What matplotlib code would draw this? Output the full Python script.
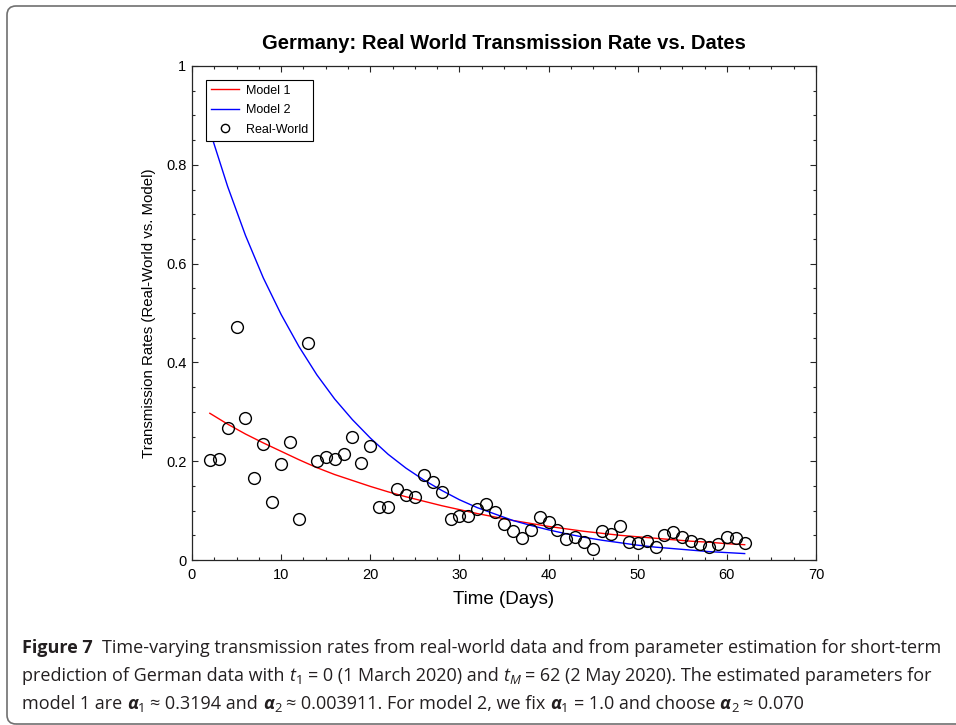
import matplotlib
matplotlib.use("Agg")
import matplotlib.pyplot as plt
from matplotlib.ticker import MultipleLocator, FormatStrFormatter
from matplotlib.transforms import IdentityTransform
from matplotlib.patches import FancyBboxPatch

plt.rcParams['font.family'] = ['Liberation Sans', 'DejaVu Sans']

# Real-world transmission rates (Germany), day 2..62
days = list(range(2, 63))
real_world = [0.203, 0.205, 0.267, 0.471, 0.287, 0.165, 0.234, 0.117, 0.194, 0.239,
              0.082, 0.440, 0.200, 0.209, 0.205, 0.215, 0.250, 0.196, 0.230, 0.107,
              0.107, 0.144, 0.131, 0.127, 0.173, 0.157, 0.138, 0.083, 0.090, 0.089,
              0.104, 0.113, 0.098, 0.072, 0.058, 0.044, 0.061, 0.087, 0.077, 0.061,
              0.042, 0.046, 0.036, 0.022, 0.059, 0.052, 0.069, 0.036, 0.035, 0.038,
              0.026, 0.051, 0.057, 0.047, 0.038, 0.032, 0.026, 0.032, 0.046, 0.044,
              0.035]

# model curves
model_days = [2, 4, 6, 8, 10, 12, 14, 16, 18, 20, 22, 24, 26, 28, 30, 32,
              34, 36, 38, 40, 42, 44, 46, 48, 50, 52, 54, 56, 58, 60, 62]
model1 = [0.297, 0.275, 0.255, 0.237, 0.220, 0.203, 0.187, 0.173, 0.161, 0.149,
          0.138, 0.128, 0.119, 0.110, 0.102, 0.094, 0.087, 0.080, 0.074, 0.068,
          0.063, 0.058, 0.054, 0.050, 0.047, 0.044, 0.041, 0.038, 0.036, 0.033, 0.031]
model2 = [0.869, 0.756, 0.657, 0.571, 0.497, 0.432, 0.375, 0.326, 0.284, 0.247,
          0.214, 0.186, 0.162, 0.141, 0.122, 0.106, 0.093, 0.080, 0.070, 0.061,
          0.053, 0.046, 0.040, 0.035, 0.030, 0.026, 0.023, 0.020, 0.017, 0.015, 0.013]

W, H = 956, 725
fig = plt.figure(figsize=(W / 100, H / 100), dpi=100)
ax = fig.add_axes([192 / W, 1 - 560 / H, 624 / W, 494 / H])

ax.plot(model_days, model1, color='#ff0000', lw=1.0, label='Model 1')
ax.plot(model_days, model2, color='#0000ff', lw=1.0, label='Model 2')
ax.plot(days, real_world, 'o', mfc='none', mec='black', mew=1.0, ms=8.5, label='Real-World')

ax.set_xlim(0, 70)
ax.set_ylim(0, 1)
ax.xaxis.set_major_locator(MultipleLocator(10))
ax.xaxis.set_minor_locator(MultipleLocator(2.5))
ax.yaxis.set_major_locator(MultipleLocator(0.2))
ax.yaxis.set_minor_locator(MultipleLocator(0.05))
ax.yaxis.set_major_formatter(FormatStrFormatter('%g'))
ax.tick_params(which='both', direction='in', top=True, right=True, colors='#262626',
               labelcolor='black', labelsize=10.5, width=0.8)
ax.tick_params(which='major', length=4.5, pad=4)
ax.tick_params(axis='x', which='major', pad=6)
ax.tick_params(which='minor', length=2.2)
for s in ax.spines.values():
    s.set_color('#262626')
    s.set_linewidth(0.9)

ax.set_title('Germany: Real World Transmission Rate vs. Dates',
             fontsize=14.5, fontweight='bold', pad=12)
ax.set_xlabel('Time (Days)', fontsize=13.5, labelpad=6)
ax.set_ylabel('Transmission Rates (Real-World vs. Model)', fontsize=10.8, labelpad=7)

leg = ax.legend(loc='upper left', bbox_to_anchor=(0.022, 0.972), borderaxespad=0,
                prop={'size': 9}, fancybox=False, framealpha=1, markerscale=0.7,
                edgecolor='black', handlelength=2.3, handletextpad=0.5,
                labelspacing=0.6, borderpad=0.4)
leg.get_frame().set_linewidth(0.8)

# rounded frame around the figure panel
frame = FancyBboxPatch((7, 1), 1000, 718, boxstyle='round,pad=0,rounding_size=9',
                       transform=IdentityTransform(), fill=False, ec='#707070', lw=1.2,
                       clip_on=False)
fig.patches.append(frame)

# caption
renderer = fig.canvas.get_renderer()
cap_family = ['Open Sans', 'DejaVu Sans']
cap_size = 13.0


def put(x, y, s, size=cap_size, **kw):
    t = fig.text(x, H - y, s, transform=IdentityTransform(), ha='left', va='baseline',
                 fontsize=size, family=cap_family, color='#231f20', **kw)
    return t.get_window_extent(renderer).x1


tmp = fig.text(0, 0, 'n n', fontsize=cap_size, family=cap_family)
w1 = tmp.get_window_extent(renderer).width
tmp.set_text('nn')
space = w1 - tmp.get_window_extent(renderer).width
tmp.remove()

N = {}
B = {'fontweight': 'bold'}
I = {'fontstyle': 'italic'}
A = {'fontweight': 'bold', 'fontstyle': 'italic'}


def caption_line(y, segs):
    x = 22
    for text, kind, gap in segs:
        x += gap * space
        if kind == 'sub':
            x = put(x + 0.5, y + 3.5, text, size=cap_size * 0.72)
        elif kind == 'subi':
            x = put(x + 0.5, y + 3.5, text, size=cap_size * 0.72, fontstyle='italic')
        else:
            x = put(x, y, text, **kind)


caption_line(653, [('Figure 7', B, 0),
                   ('Time-varying transmission rates from real-world data and from parameter '
                    'estimation for short-term', N, 2)])
caption_line(681, [('prediction of German data with', N, 0), ('t', I, 1), ('1', 'sub', 0),
                   ('= 0 (1 March 2020) and', N, 1), ('t', I, 1), ('M', 'subi', 0),
                   ('= 62 (2 May 2020). The estimated parameters for', N, 1)])
caption_line(709, [('model 1 are', N, 0), ('\u03b1', A, 1), ('1', 'sub', 0),
                   ('\u2248 0.3194 and', N, 1), ('\u03b1', A, 1), ('2', 'sub', 0),
                   ('\u2248 0.003911. For model 2, we fix', N, 1), ('\u03b1', A, 1), ('1', 'sub', 0),
                   ('= 1.0 and choose', N, 1), ('\u03b1', A, 1), ('2', 'sub', 0),
                   ('\u2248 0.070', N, 1)])

fig.savefig('out.png', dpi=100)
